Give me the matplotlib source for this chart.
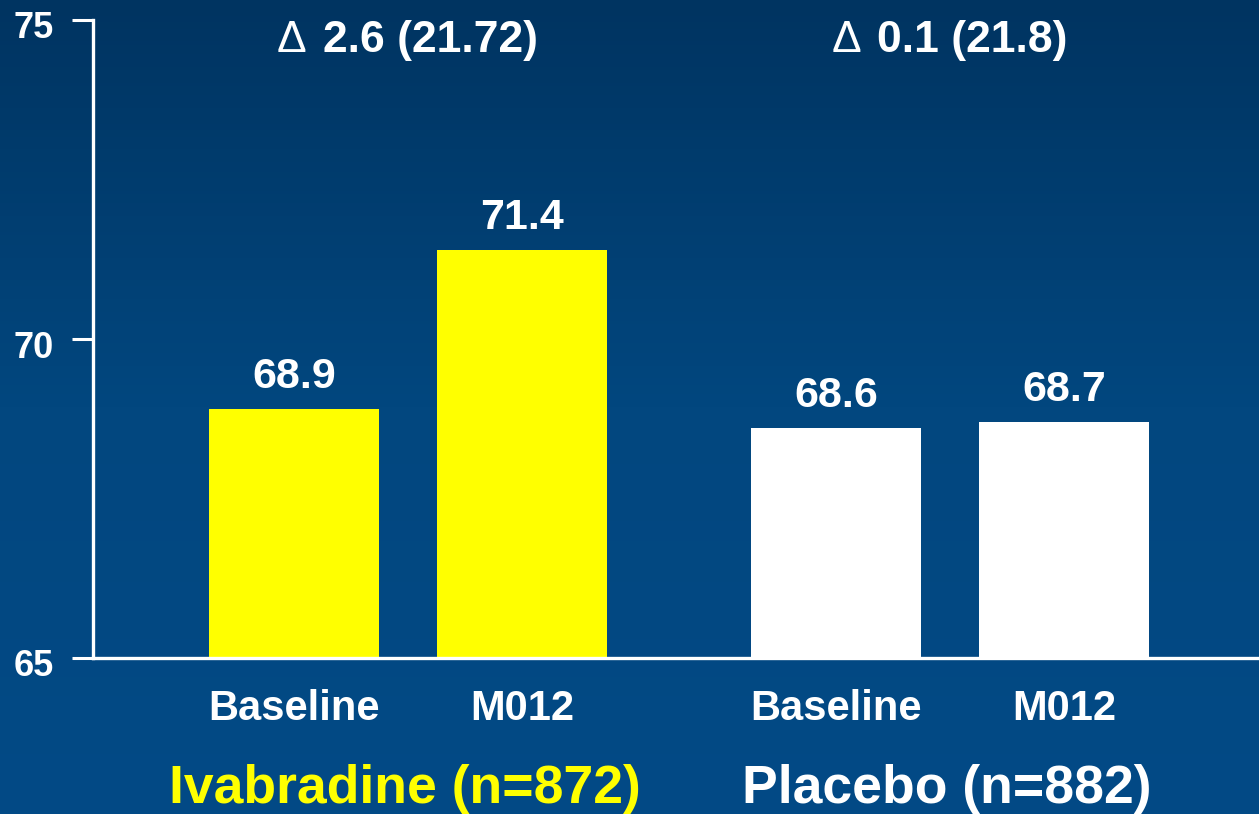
import numpy as np
import matplotlib
matplotlib.use("Agg")
import matplotlib.pyplot as plt
from matplotlib.colors import LinearSegmentedColormap
from matplotlib.transforms import blended_transform_factory, ScaledTranslation, offset_copy

plt.rcParams["font.family"] = ["Liberation Sans", "DejaVu Sans"]
plt.rcParams["font.weight"] = "bold"

groups = ["Ivabradine (n=872)", "Placebo (n=882)"]
group_colors = ["#ffff00", "#ffffff"]
timepoints = ["Baseline", "M012"]
values = [[68.9, 71.4], [68.6, 68.7]]
deltas = ["2.6 (21.72)", "0.1 (21.8)"]
yticks = [65, 70, 75]

fig = plt.figure(figsize=(12.59, 8.14), dpi=100)

# vertical blue gradient behind everything
bg = fig.add_axes([0, 0, 1, 1], zorder=-10)
cmap = LinearSegmentedColormap.from_list("bg", ["#003461", "#02477f", "#024a86"])
bg.imshow(np.linspace(0, 1, 256).reshape(-1, 1), aspect="auto", cmap=cmap,
          extent=[0, 1, 0, 1], origin="upper")
bg.set_axis_off()

ax = fig.add_axes([93 / 1259, 1 - 658 / 814, 1 - 93 / 1259, 638 / 814])
ax.set_facecolor("none")

width = 1.0
offset = 0.67
centers = [0.0, 3.19]
for gi, (c, vals) in enumerate(zip(centers, values)):
    xs = [c - offset, c + offset]
    ax.bar(xs, [v - 65 for v in vals], bottom=65, width=width,
           color=group_colors[gi], edgecolor="none", zorder=2)
    for x, v in zip(xs, vals):
        ax.annotate(f"{v}", (x, v), xytext=(0, 15), textcoords="offset points",
                    ha="center", va="baseline", color="white", fontsize=31)

ax.set_xlim(-1.853, 5.006)
ax.set_ylim(65, 75)
ax.set_yticks(yticks)
ax.set_xticks([])
ax.tick_params(axis="y", colors="white", length=15, width=2.2, pad=13,
               labelsize=26)
for lab in ax.get_yticklabels():
    lab.set_transform(lab.get_transform() + ScaledTranslation(0, -0.05, fig.dpi_scale_trans))
for s in ["top", "right"]:
    ax.spines[s].set_visible(False)
for s in ["left", "bottom"]:
    ax.spines[s].set_color("white")
    ax.spines[s].set_linewidth(2.4)
    ax.spines[s].set_zorder(3)

trans = blended_transform_factory(ax.transData, fig.transFigure)
fig.canvas.draw()
renderer = fig.canvas.get_renderer()
for gi, c in enumerate(centers):
    # change text in bold, with a thin delta sign in front of it
    t = ax.text(c, 1 - 52 / 814, deltas[gi], ha="center", va="baseline",
                color="white", fontsize=32,
                transform=offset_copy(trans, fig=fig, x=16, y=0, units="points"))
    bb = t.get_window_extent(renderer)
    fig.text((bb.x0 - 16) / fig.bbox.width, 1 - 52 / 814, "\u0394", ha="right",
             va="baseline", color="white", fontsize=32, fontweight="normal")
    for x, lab in zip([c - offset, c + offset], timepoints):
        ax.text(x, 1 - 720 / 814, lab, transform=trans, ha="center",
                va="baseline", color="white", fontsize=30)
    ax.text(c - 0.02, 1 - 803 / 814, groups[gi], transform=trans, ha="center",
            va="baseline", color=group_colors[gi], fontsize=38.5)

fig.savefig("out.png", dpi=100)
